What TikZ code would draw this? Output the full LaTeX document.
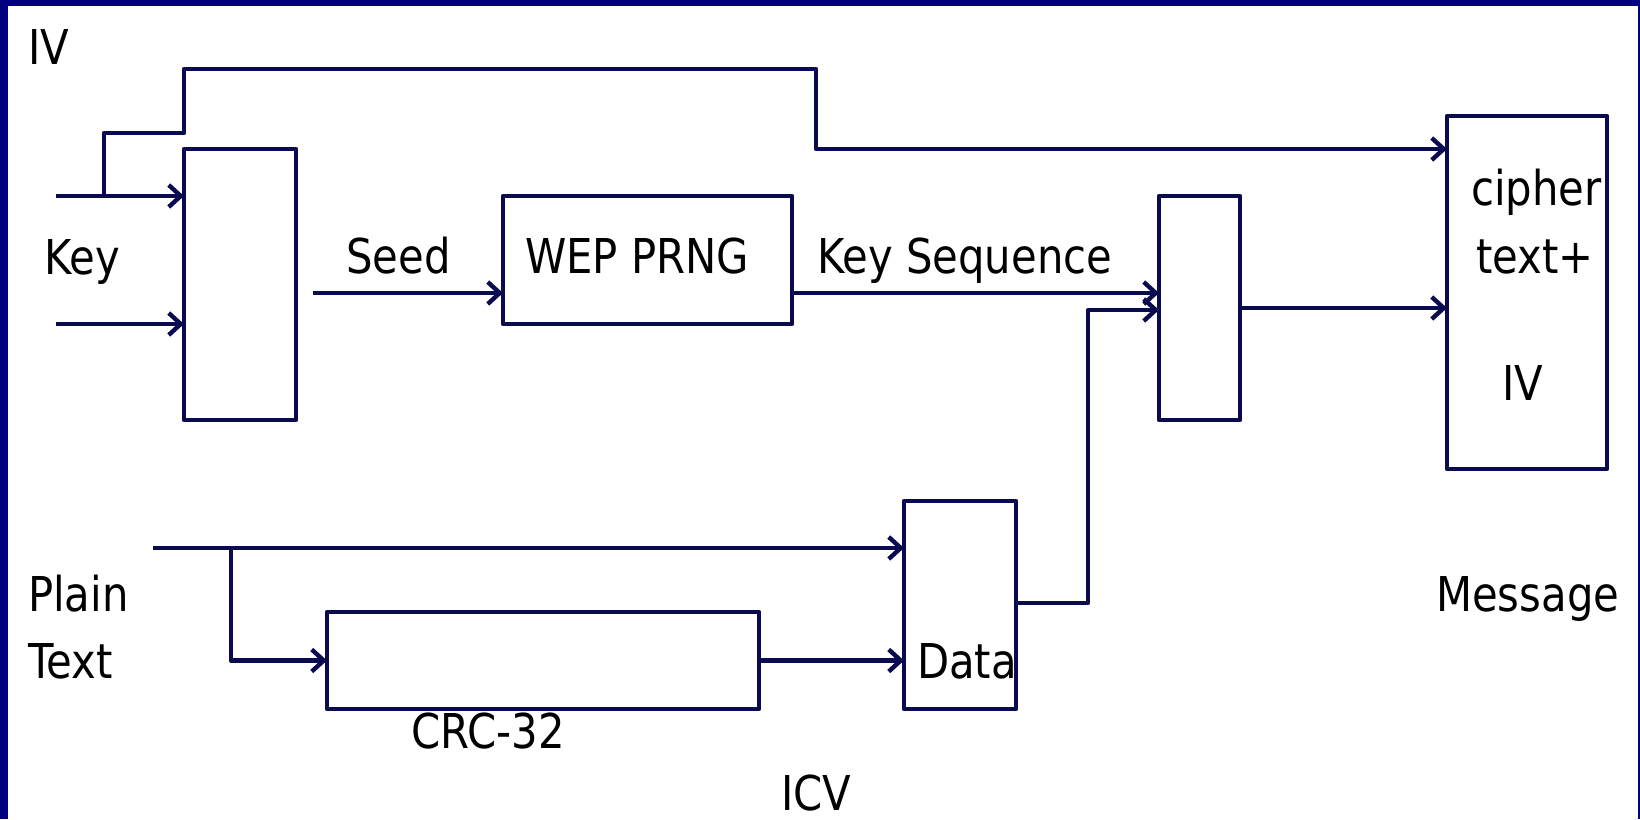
\documentclass[tikz,border=0pt]{standalone}
\usepackage{fontspec}
\setmainfont{DejaVu Sans}[FakeStretch=0.87]
\usetikzlibrary{arrows.meta}
\definecolor{ln}{HTML}{0A0A4E}
\definecolor{frame}{HTML}{000080}
\begin{document}
\begin{tikzpicture}[x=1pt,y=-1pt,
  box/.style={draw=ln,line width=4.8pt,inner sep=0pt,outer sep=0pt,rectangle,line join=round},
  wire/.style={draw=ln,line width=4.8pt,line join=round},
  arr/.style={wire,-{Straight Barb[length=12pt,width=22pt,line width=4.4pt]}},
  lbl/.style={anchor=base west,inner sep=0pt,font=\fontsize{48}{50}\selectfont,text=black}]
\useasboundingbox (0,0) rectangle (1640,819);
\fill[white] (0,0) rectangle (1640,819);
\fill[frame] (0,0) rectangle (8,819);
\fill[frame] (0,0) rectangle (1640,5.5);
\fill[frame] (1637.5,0) rectangle (1640,819);
% boxes
\node[box,minimum width=112pt,minimum height=271pt] (b1) at (240,284.5) {};
\node[box,minimum width=289pt,minimum height=128pt] (prng) at (647.5,260) {};
\node[box,minimum width=81pt,minimum height=224pt] (xor) at (1199.5,308) {};
\node[box,minimum width=160pt,minimum height=353pt] (msg) at (1527,292.5) {};
\node[box,minimum width=432pt,minimum height=97pt] (crc) at (543,660.5) {};
\node[box,minimum width=112pt,minimum height=208pt] (data) at (960,605) {};
% free ends
\coordinate (k1) at (56,196);
\coordinate (k2) at (56,324);
\coordinate (ivs) at (104,196);
\coordinate (sd) at (313,293);
\coordinate (pt) at (153,548);
\coordinate (br) at (231,548);
% connectors
\draw[arr] (k1) -- (k1 -| b1.west);
\draw[arr] (k2) -- (k2 -| b1.west);
\draw[arr] (ivs) -- (104,133) -- (b1.west |- 0,133) -- (b1.west |- 0,69) -- (816,69) -- (816,149) -- (msg.west |- 0,149);
\draw[arr] (sd) -- (sd -| prng.west);
\draw[arr] (prng.east |- 0,293) -- (xor.west |- 0,293);
\draw[arr] (data.east |- 0,603) -- (1088,603) -- (1088,310) -- (xor.west |- 0,310);
\draw[arr] (xor.east |- 0,308) -- (msg.west |- 0,308);
\draw[arr] (pt) -- (pt -| data.west);
\draw[arr] (br) |- (crc.west);
\draw[arr] (crc.east) -- (crc.east -| data.west);
% labels
\node[lbl] (tiv) at (28,64) {IV};
\node[lbl] (tkey) at (44,274) {Key};
\node[lbl] (tseed) at (346,273) {Seed};
\node[lbl] (tprng) at (525,273) {WEP PRNG};
\node[lbl] (tks) at (817,273) {Key Sequence};
\node[lbl] (tc1) at (1471,205) {cipher};
\node[lbl] (tc2) at (1476,273) {text+};
\node[lbl] (tc3) at (1502,400) {IV};
\node[lbl] (tmsg) at (1436,611) {Message};
\node[lbl] (tpl) at (28,611) {Plain};
\node[lbl] (ttx) at (28,678) {Text};
\node[lbl] (tdata) at (917,678) {Data};
\node[lbl] (tcrc) at (411,748) {CRC-32};
\node[lbl] (ticv) at (781,810) {ICV};
\end{tikzpicture}
\end{document}
